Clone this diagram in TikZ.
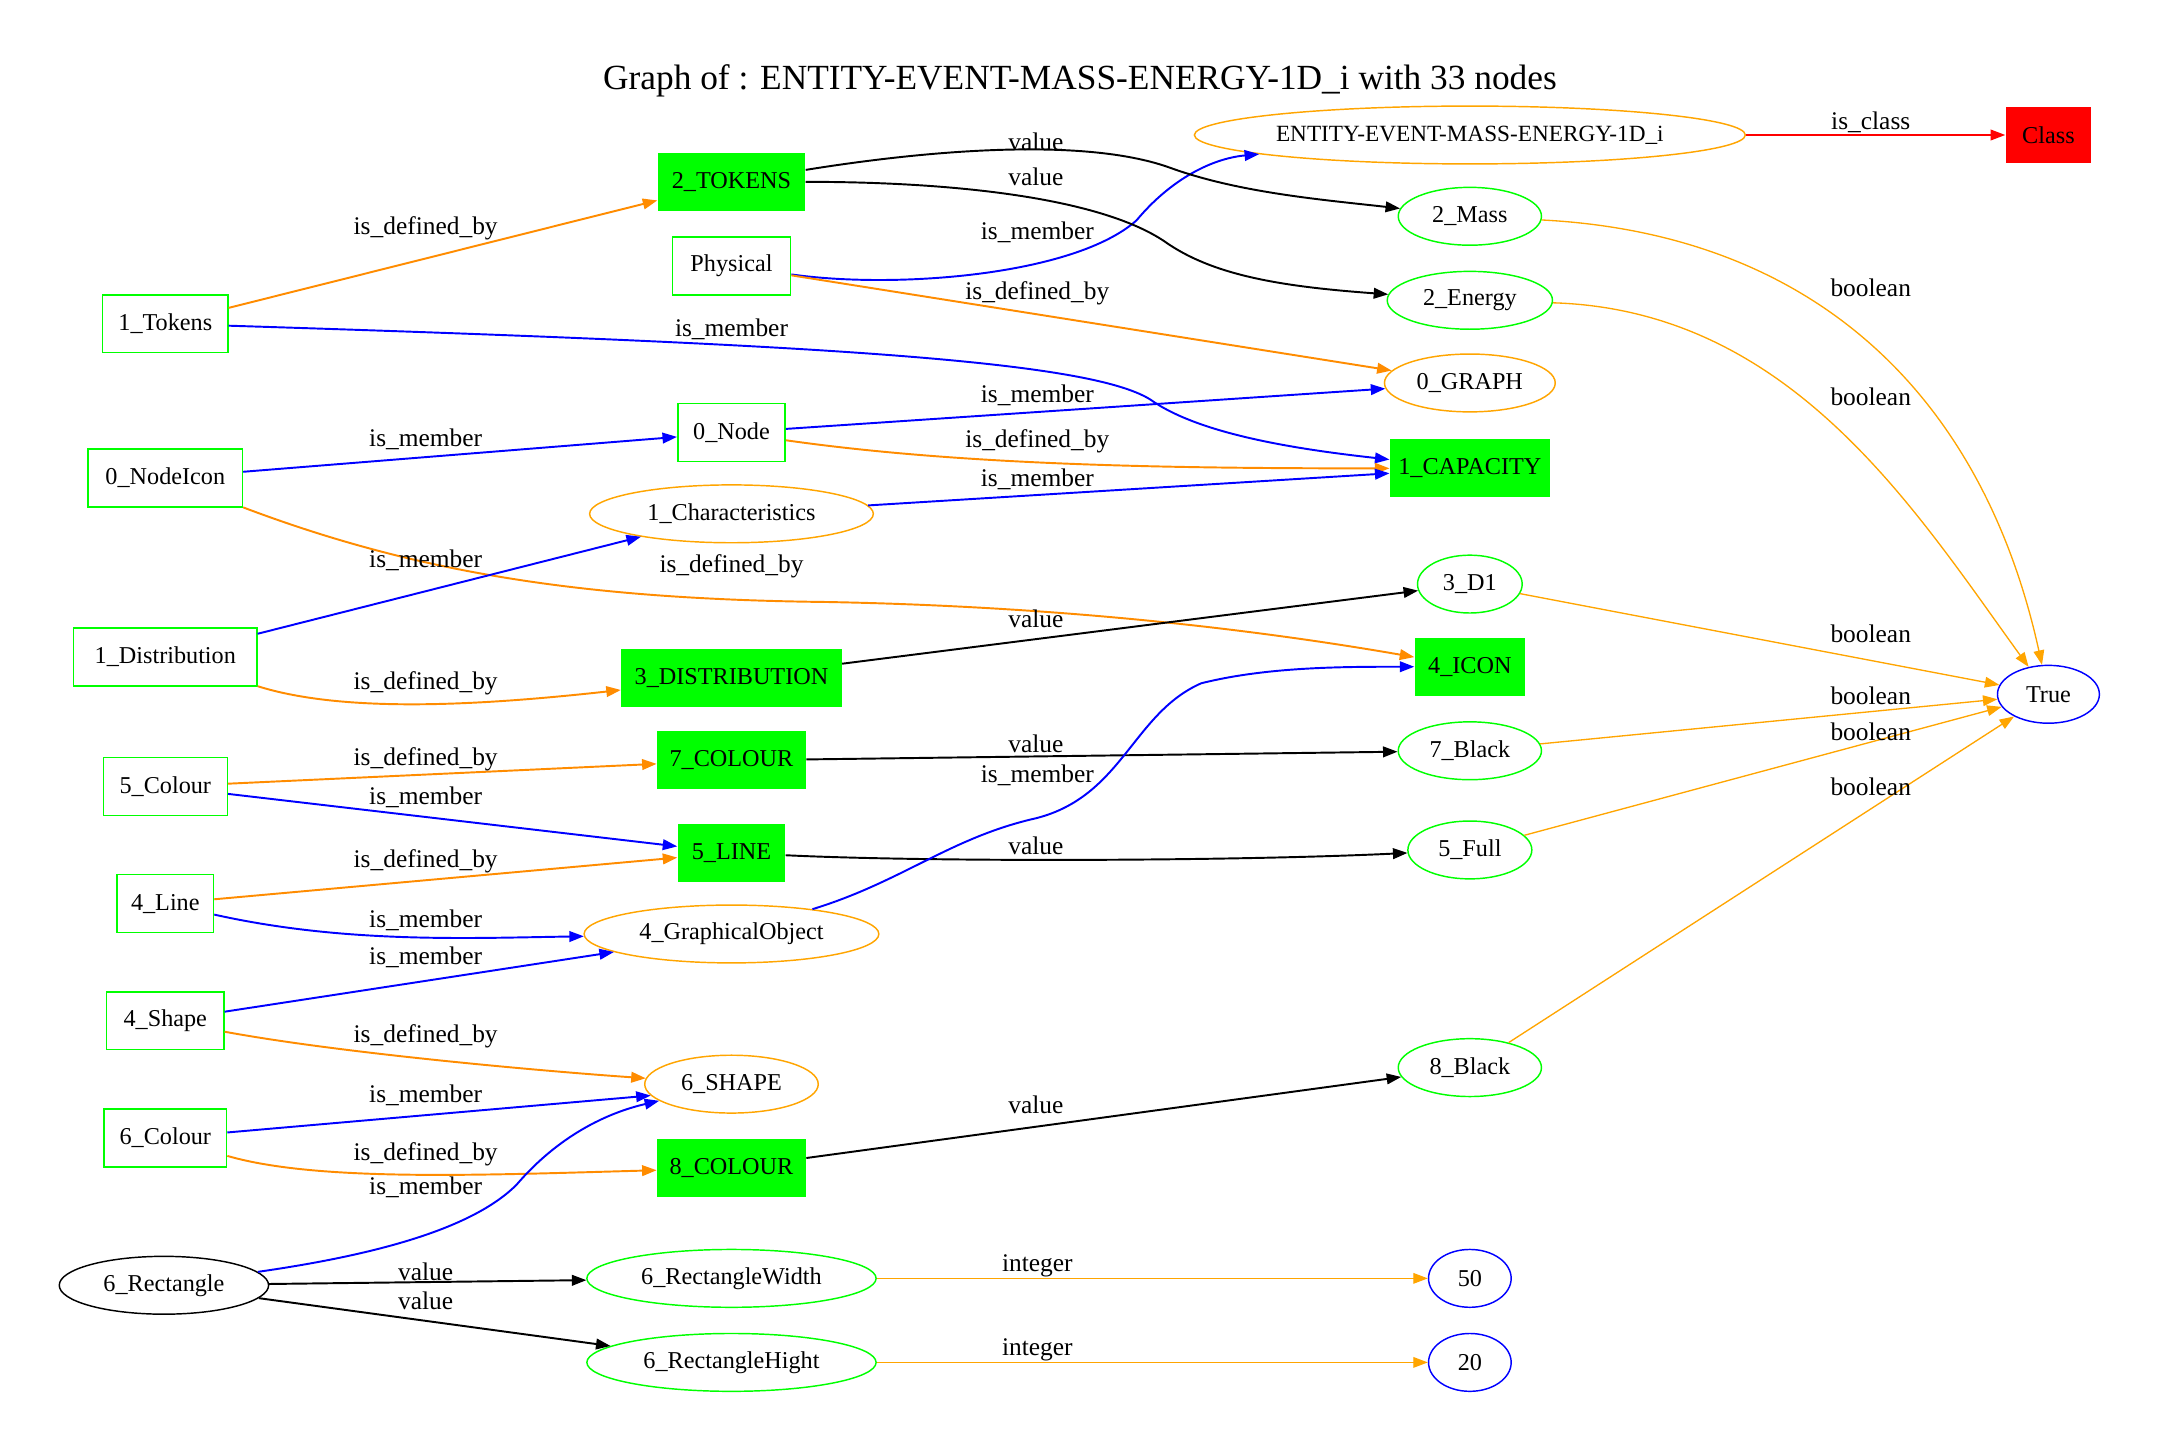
\documentclass[tikz,border=0pt]{standalone}
\usepackage{fontspec}
\setmainfont{Liberation Serif}
\usetikzlibrary{arrows.meta,shapes.geometric}
\definecolor{gvgreen}{RGB}{0,255,0}
\definecolor{gvorange}{RGB}{255,165,0}
\definecolor{gvdarkorange}{RGB}{255,140,0}
\definecolor{gvblue}{RGB}{0,0,255}
\definecolor{gvred}{RGB}{255,0,0}
\begin{document}
\begin{tikzpicture}[x=0.02cm,y=-0.02cm,>={Triangle[length=6pt,width=4.4pt]},
 nbox/.style={draw=gvgreen,line width=0.6pt,minimum height=0.84cm,inner sep=0pt,font=\fontsize{10}{12}\selectfont},
 gbox/.style={fill=gvgreen,minimum height=0.84cm,inner sep=0pt,font=\fontsize{10}{12}\selectfont},
 ell/.style={ellipse,draw=#1,line width=0.6pt,minimum height=0.84cm,inner sep=0pt,font=\fontsize{10}{12}\selectfont},
 ismem/.style={->,gvblue,line width=0.8pt},
 isdef/.style={->,gvdarkorange,line width=0.8pt},
 isval/.style={->,black,line width=0.8pt},
 isbool/.style={->,gvorange,line width=0.55pt},
 lab/.style={inner sep=0pt,text=black,font=\fontsize{10.5}{12}\selectfont}]
\fill[white](0,0)rectangle(1568,1054);
\useasboundingbox(0,0)rectangle(1568,1054);
\node[font=\fontsize{14.6}{17}\selectfont](ttl)at(784,59){Graph of : ENTITY-EVENT-MASS-ENERGY-1D\_i with 33 nodes};
\node[nbox,minimum width=1.82cm](tok)at(120,235){1\_Tokens};
\node[nbox,minimum width=2.24cm](nic)at(120,347){0\_NodeIcon};
\node[nbox,minimum width=2.66cm](dis)at(120,477){1\_Distribution};
\node[nbox,minimum width=1.80cm](col5)at(120,571){5\_Colour};
\node[nbox,minimum width=1.40cm](lin4)at(120,656){4\_Line};
\node[nbox,minimum width=1.70cm](shp4)at(120,741){4\_Shape};
\node[nbox,minimum width=1.78cm](col6)at(120,826){6\_Colour};
\node[ell=black,minimum width=3.04cm](rec)at(119,933){6\_Rectangle};
\node[gbox,minimum width=2.14cm](TOK)at(531,132){2\_TOKENS};
\node[nbox,minimum width=1.72cm](phy)at(531,193){Physical};
\node[nbox,minimum width=1.56cm](nod)at(531,314){0\_Node};
\node[ell=gvorange,minimum width=4.12cm](cha)at(531,373){1\_Characteristics};
\node[gbox,minimum width=3.20cm](dst)at(531,492){3\_DISTRIBUTION};
\node[gbox,minimum width=2.16cm](c7)at(531,552){7\_COLOUR};
\node[gbox,minimum width=1.56cm](lin5)at(531,619){5\_LINE};
\node[ell=gvorange,minimum width=4.28cm](gob)at(531,678){4\_GraphicalObject};
\node[ell=gvorange,minimum width=2.52cm](sha6)at(531,787){6\_SHAPE};
\node[gbox,minimum width=2.16cm](c8)at(531,848){8\_COLOUR};
\node[ell=gvgreen,minimum width=4.20cm](rwd)at(531,928){6\_RectangleWidth};
\node[ell=gvgreen,minimum width=4.20cm](rht)at(531,989){6\_RectangleHight};
\node[ell=gvorange,minimum width=8cm,font=\fontsize{9.6}{11}\selectfont](ent)at(1067,98){ENTITY-EVENT-MASS-ENERGY-1D\_i};
\node[ell=gvgreen,minimum width=2.08cm](mas)at(1067,157){2\_Mass};
\node[ell=gvgreen,minimum width=2.40cm](ene)at(1067,218){2\_Energy};
\node[ell=gvorange,minimum width=2.48cm](gra)at(1067,278){0\_GRAPH};
\node[gbox,minimum width=2.32cm](cap)at(1067,340){1\_CAPACITY};
\node[ell=gvgreen,minimum width=1.52cm](d1)at(1067,424){3\_D1};
\node[gbox,minimum width=1.60cm](ico)at(1067,484){4\_ICON};
\node[ell=gvgreen,minimum width=2.08cm](b7)at(1067,545){7\_Black};
\node[ell=gvgreen,minimum width=1.80cm](ful)at(1067,617){5\_Full};
\node[ell=gvgreen,minimum width=2.08cm](b8)at(1067,775){8\_Black};
\node[ell=gvblue,minimum width=1.20cm](n50)at(1067,928){50};
\node[ell=gvblue,minimum width=1.20cm](n20)at(1067,989){20};
\node[fill=gvred,minimum width=1.24cm,minimum height=0.8cm,inner sep=0pt,font=\fontsize{10}{12}\selectfont](cls)at(1487,98){Class};
\node[ell=gvblue,minimum width=1.48cm](tru)at(1487,504){True};
\draw[->,gvred,line width=0.6pt](ent)--(cls)node[lab]at(1358,89){is\_class};
\draw[isdef](tok)--(TOK)node[lab]at(309,166){is\_defined\_by};
\draw[ismem](tok)..controls(600,250)and(790,262)..(835,290)..controls(870,315)and(940,326)..(cap)node[lab]at(531,239){is\_member};
\draw[ismem](phy)..controls(650,210)and(780,200)..(825,160)..controls(850,130)and(880,115)..(ent)node[lab]at(753,169){is\_member};
\draw[isdef](phy)--(gra)node[lab]at(753,213){is\_defined\_by};
\draw[isval](TOK)..controls(680,108)and(790,100)..(850,122)..controls(900,140)and(960,145)..(mas)node[lab]at(752,103){value};
\draw[isval](TOK)..controls(700,132)and(800,145)..(845,175)..controls(880,200)and(930,208)..(ene)node[lab]at(752,128){value};
\draw[ismem](nic)--(nod)node[lab]at(309,319){is\_member};
\draw[isdef](nic)..controls(300,415)and(420,435)..(600,437)..controls(760,440)and(900,455)..(ico)node[lab]at(531,411){is\_defined\_by};
\draw[ismem](nod)--(gra)node[lab]at(753,287){is\_member};
\draw[isdef](nod)..controls(700,338)and(850,340)..(cap)node[lab]at(753,320){is\_defined\_by};
\draw[ismem](cha)--(cap)node[lab]at(753,348){is\_member};
\draw[ismem](dis)--(cha)node[lab]at(309,407){is\_member};
\draw[isdef](dis)..controls(250,518)and(350,512)..(dst)node[lab]at(309,496){is\_defined\_by};
\draw[isval](dst)--(d1)node[lab]at(752,449){value};
\draw[isval](c7)--(b7)node[lab]at(752,540){value};
\draw[isdef](col5)--(c7)node[lab]at(309,551){is\_defined\_by};
\draw[ismem](col5)--(lin5)node[lab]at(309,579){is\_member};
\draw[isval](lin5)..controls(680,626)and(900,625)..(ful)node[lab]at(752,614){value};
\draw[isdef](lin4)--(lin5)node[lab]at(309,625){is\_defined\_by};
\draw[ismem](lin4)..controls(250,685)and(340,681)..(gob)node[lab]at(309,668){is\_member};
\draw[ismem](gob)..controls(655,640)and(690,608)..(752,594)..controls(815,578)and(822,518)..(872,496)..controls(920,484)and(975,484)..(ico)node[lab]at(753,563){is\_member};
\draw[ismem](shp4)--(gob)node[lab]at(309,695){is\_member};
\draw[isdef](shp4)..controls(250,765)and(400,778)..(sha6)node[lab]at(309,752){is\_defined\_by};
\draw[ismem](col6)--(sha6.188)node[lab]at(309,795){is\_member};
\draw[isdef](col6)..controls(230,858)and(350,853)..(c8)node[lab]at(309,838){is\_defined\_by};
\draw[ismem](rec)..controls(280,910)and(345,890)..(375,860)..controls(405,825)and(440,808)..(sha6)node[lab]at(309,862){is\_member};
\draw[isval](rec)--(rwd)node[lab]at(309,923){value};
\draw[isval](rec)--(rht)node[lab]at(309,944){value};
\draw[isval](c8)--(b8)node[lab]at(752,802){value};
\draw[isbool](rwd)--(n50)node[lab]at(753,919){integer};
\draw[isbool](rht)--(n20)node[lab]at(753,980){integer};
\draw[isbool](mas)..controls(1320,170)and(1440,290)..(tru)node[lab]at(1358,209){boolean};
\draw[isbool](ene)..controls(1300,225)and(1390,370)..(tru)node[lab]at(1358,288){boolean};
\draw[isbool](d1)--(tru)node[lab]at(1358,460){boolean};
\draw[isbool](b7)--(tru)node[lab]at(1358,505){boolean};
\draw[isbool](ful)--(tru)node[lab]at(1358,531){boolean};
\draw[isbool](b8)--(tru)node[lab]at(1358,571){boolean};
\end{tikzpicture}
\end{document}
